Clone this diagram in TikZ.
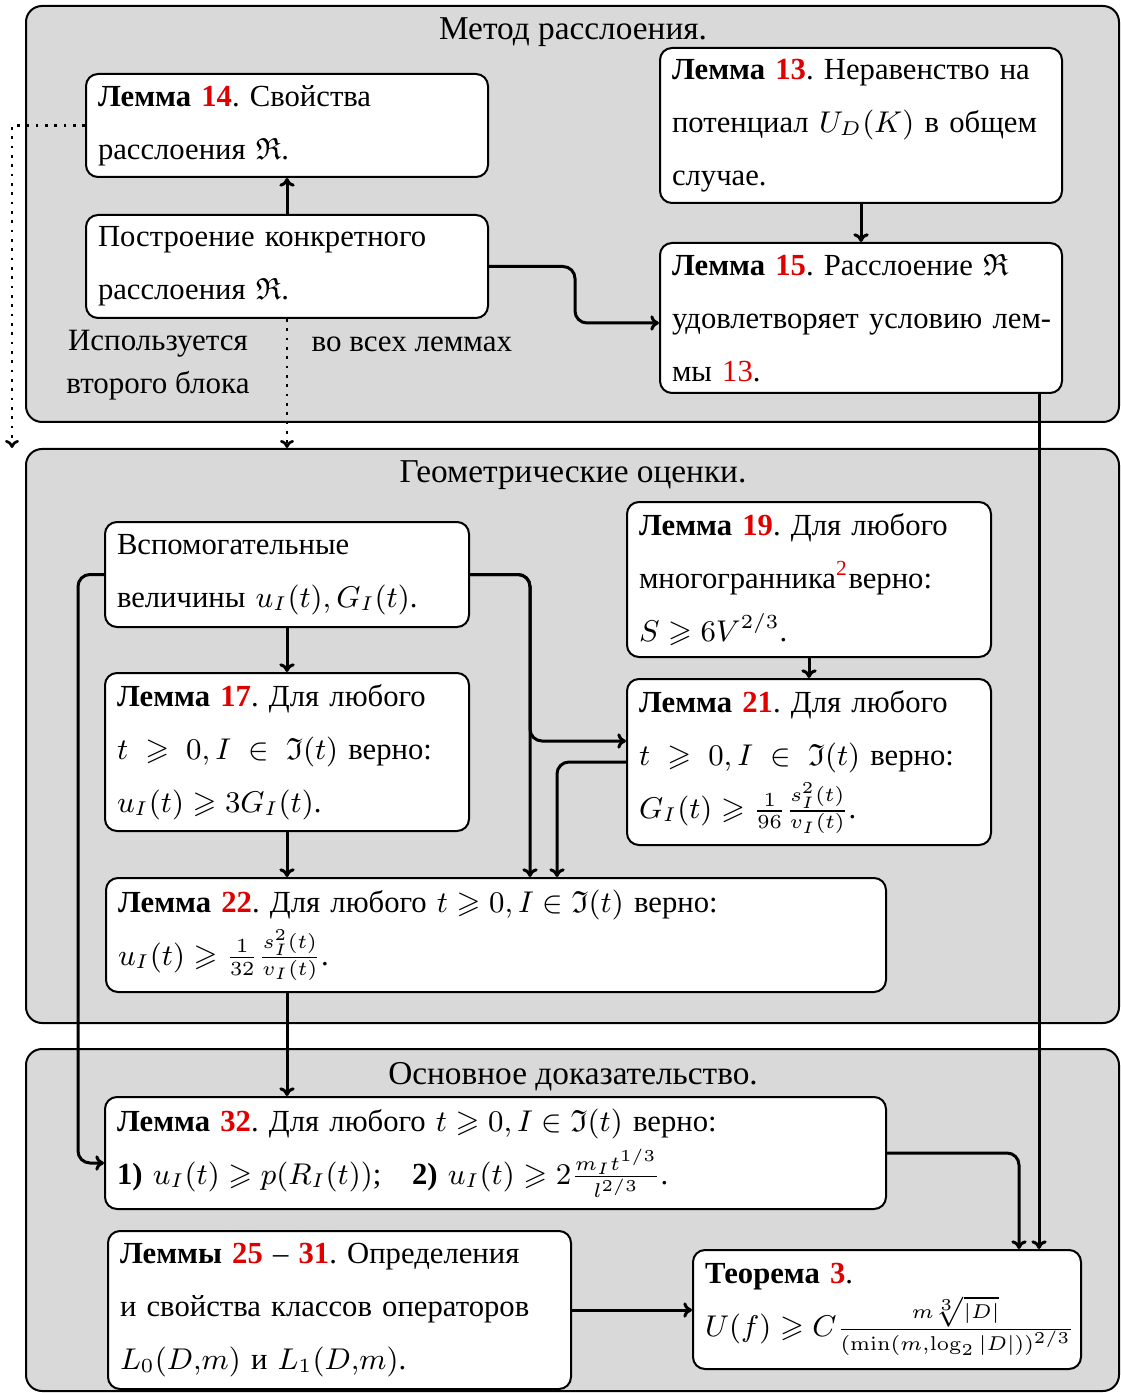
\documentclass[tikz,border=0pt]{standalone}
\usepackage{amsmath,amssymb}
\usepackage[no-math]{fontspec}
\setmainfont{Liberation Serif}
\usetikzlibrary{calc,arrows.meta}
\definecolor{grpfill}{HTML}{D9D9D9}
\definecolor{numred}{HTML}{E00000}
\newcommand{\lemhead}[1]{\textbf{Лемма \textcolor{numred}{#1}}}
\newcommand{\rednum}[1]{\textcolor{numred}{#1}}
\frenchspacing
\begin{document}
\begin{tikzpicture}[x=0.3pt,y=-0.3pt,
  grp/.style={draw, line width=0.6pt, fill=grpfill, rounded corners=4.8pt, anchor=north west, inner sep=0pt},
  box/.style={draw, line width=0.6pt, fill=white, rounded corners=3.6pt, anchor=north west,
    inner xsep=3.6pt, inner ysep=0pt, align=left, font={\fontsize{9.2pt}{15.9pt}\selectfont\frenchspacing}},
  ttl/.style={font={\fontsize{10pt}{12pt}\selectfont}},
  note/.style={font={\fontsize{9.3pt}{12.9pt}\selectfont}, inner sep=0pt},
  arr/.style={-{To[length=2.6pt,width=4.6pt]}, line width=0.9pt, rounded corners=3.6pt},
  dots/.style={-{To[length=2.4pt,width=4.2pt]}, line width=0.8pt, dotted}]
\useasboundingbox (0,0) rectangle (1120,1393);
% groups
\node[grp, minimum width=327.9pt, minimum height=124.8pt] (g1) at (25,5) {};
\node[grp, minimum width=327.9pt, minimum height=172.2pt] (g2) at (25,448) {};
\node[grp, minimum width=327.9pt, minimum height=102.6pt] (g3) at (25,1048) {};
\node[ttl] (t1) at (573,32) {Метод расслоения.};
\node[ttl] (t2) at (573,475) {Геометрические оценки.};
\node[ttl] (t3) at (573,1077) {Основное доказательство.};
% group 1
\node[box, text width=113.4pt, minimum height=30.9pt] (l14) at (85,73)
  {\lemhead{14}. Свойства\\расслоения $\mathfrak{R}$.};
\node[box, text width=113.4pt, minimum height=30.9pt] (build) at (85,214)
  {Построение конкретного\\расслоения $\mathfrak{R}$.};
\node[box, text width=113.4pt, minimum height=46.5pt] (l13) at (659,47)
  {\lemhead{13}. Неравенство на\\\mbox{потенциал $U_D(K)$ в общем}\\случае.};
\node[box, text width=113.4pt, minimum height=45pt] (l15) at (659,242)
  {\lemhead{15}. Расслоение $\mathfrak{R}$\\\mbox{удовлетворяет условию лем-}\\мы \rednum{13}.};
\node[note, align=center] (n1) at (158,365) {Используется\\второго блока};
\node[note, anchor=west] (n2) at (311,344) {во всех леммах};
% group 2
\node[box, text width=102pt, minimum height=31.5pt] (aux) at (104,521)
  {Вспомогательные\\величины $u_I(t), G_I(t)$.};
\node[box, text width=102pt, minimum height=47.4pt] (l17) at (104,672)
  {\lemhead{17}. Для любого\\\mbox{$t\;\geqslant\;0, I\;\in\;\mathfrak{I}(t)$ верно:}\\$u_I(t)\geqslant 3G_I(t)$.};
\node[box, text width=102pt, minimum height=46.5pt] (l19) at (626,501)
  {\lemhead{19}. Для любого\\многогранника\textsuperscript{\rednum{2}}верно:\\$S\geqslant 6V^{2/3}$.};
\node[box, text width=102pt, minimum height=49.8pt] (l21) at (626,678)
  {\lemhead{21}. Для любого\\\mbox{$t\;\geqslant\;0, I\;\in\;\mathfrak{I}(t)$ верно:}\\$G_I(t)\geqslant \frac{1}{96}\frac{s_I^2(t)}{v_I(t)}$.};
\node[box, text width=226.8pt, minimum height=34.2pt] (l22) at (105,877)
  {\lemhead{22}. Для любого $t\geqslant 0, I\in\mathfrak{I}(t)$ верно:\\$u_I(t)\geqslant \frac{1}{32}\frac{s_I^2(t)}{v_I(t)}$.};
% group 3
\node[box, text width=227.1pt, minimum height=33.6pt] (l32) at (104,1096)
  {\lemhead{32}. Для любого $t\geqslant 0, I\in\mathfrak{I}(t)$ верно:\\\textbf{1)} $u_I(t)\geqslant p(R_I(t))$;\quad \textbf{2)} $u_I(t)\geqslant 2\frac{m_I t^{1/3}}{l^{2/3}}$.};
\node[box, text width=131.7pt, minimum height=47.4pt] (l25) at (107,1230)
  {\textbf{Леммы \rednum{25}} -- \textbf{\rednum{31}}. Определения\\и свойства классов операторов\\$L_0(D{,}m)$ и $L_1(D{,}m)$.};
\node[box, text width=109.2pt, minimum height=35.7pt] (thm) at (692,1249)
  {\textbf{Теорема \rednum{3}}.\\\mbox{$U(f)\geqslant C\frac{m\sqrt[3]{|D|}}{(\min(m,\log_2|D|))^{2/3}}$}};
% helper coordinates
\coordinate (cA) at (530,650);
\coordinate (cB) at (557,800);
\coordinate (cC) at (78,800);
\coordinate (cD) at (12,300);
\coordinate (l21in) at ([yshift=6.3pt]l21.west);
\coordinate (thmA) at ([xshift=-18.9pt]thm.north east);
\coordinate (l15out) at ([xshift=-7.2pt]l15.south east);
% connectors group 1
\draw[arr] (build.north) -- (l14.south);
\draw[arr] (l13.south) -- (l15.north);
\draw[arr] (build.east) -- ++(86,0) |- ([yshift=-1.5pt]l15.west);
\draw[dots] (build.south) -- (build.south |- g2.north);
\draw[dots] (l14.west) -| (cD) -- (cD |- g2.north);
\draw[arr] (l15out) -- (l15out |- thm.north);
% connectors group 2
\draw[arr] (aux.south) -- (l17.north);
\draw[arr] (l17.south) -- (l17.south |- l22.north);
\draw[arr] (l19.south) -- (l21.north);
\draw[arr] (aux.east) -| (cA) |- (l21in);
\draw[arr] (aux.east) -| (cA |- l22.north);
\draw[arr] (l21.west) -| (cB |- l22.north);
\draw[arr] (aux.west) -| (cC) |- ([yshift=-3pt]l32.west);
\draw[arr] (l22.south -| aux.south) -- (l32.north -| aux.south);
% connectors group 3
\draw[arr] (l32.east) -| (thmA);
\draw[arr] (l25.east) -- (l25.east -| thm.west);
\end{tikzpicture}
\end{document}
